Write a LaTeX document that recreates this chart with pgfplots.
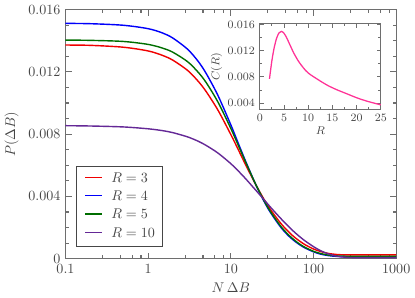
\documentclass[border=0pt]{standalone}
\usepackage{pgfplots}
\pgfplotsset{compat=1.18}
\definecolor{axgray}{RGB}{110,110,110}
\definecolor{txgray}{RGB}{70,70,70}
\definecolor{cred}{RGB}{240,0,0}
\definecolor{cblue}{RGB}{0,0,250}
\definecolor{cgreen}{RGB}{0,110,0}
\definecolor{cpurple}{RGB}{100,40,150}
\definecolor{cpink}{RGB}{255,50,150}
\begin{document}
\begin{tikzpicture}
\begin{axis}[
  name=main,
  scale only axis,
  width=235pt, height=177pt,
  xmode=log,
  xmin=0.1, xmax=1000,
  ymin=0, ymax=0.016,
  xtick={0.1,1,10,100,1000},
  xticklabels={0.1,1,10,100,1000},
  minor xtick={0.28,0.46,0.64,0.82,2.8,4.6,6.4,8.2,28,46,64,82,280,460,640,820},
  ytick={0,0.004,0.008,0.012,0.016},
  yticklabels={0,0.004,0.008,0.012,0.016},
  minor ytick={0.001,0.002,0.003,0.005,0.006,0.007,0.009,0.010,0.011,0.013,0.014,0.015},
  scaled y ticks=false,
  axis line style={axgray, line width=1pt},
  major tick style={axgray, line width=0.8pt},
  minor tick style={axgray, line width=0.8pt},
  major tick length=4.3pt,
  minor tick length=2.5pt,
  tick align=inside,
  ticklabel style={text=txgray},
  xlabel style={text=txgray},
  ylabel style={text=txgray},
  xlabel={$N\,\Delta B$},
  ylabel={$P(\Delta B)$},
  clip=false,
]
\addplot[cred, line width=1pt, smooth] coordinates {
(0.1,0.01372)(0.2,0.01370)(0.5,0.01358)(1,0.01334)(1.5,0.01305)(2,0.01274)(3,0.01209)(4,0.01141)(5,0.01075)(7,0.00953)(10,0.00797)(12,0.00712)(15,0.00606)(20,0.00476)(25,0.00384)(30,0.00317)(40,0.00228)(50,0.00172)(60,0.00134)(70,0.00108)(80,0.00088)(100,0.00062)(120,0.00047)(150,0.00034)(200,0.00026)(300,0.00024)(500,0.00024)(1000,0.00024)};
\addplot[cblue, line width=1pt, smooth] coordinates {
(0.1,0.01511)(0.2,0.01509)(0.5,0.01499)(1,0.01477)(1.5,0.01449)(2,0.01416)(3,0.01345)(4,0.01269)(5,0.01192)(7,0.01047)(10,0.00859)(12,0.00755)(15,0.00629)(20,0.00476)(25,0.00372)(30,0.00298)(40,0.00203)(50,0.00146)(60,0.00110)(70,0.00085)(80,0.00067)(100,0.00044)(120,0.00030)(150,0.00020)(200,0.00014)(300,0.00012)(500,0.00012)(1000,0.00012)};
\addplot[cgreen, line width=1pt, smooth] coordinates {
(0.1,0.01404)(0.2,0.01402)(0.5,0.01395)(1,0.01376)(1.5,0.01352)(2,0.01325)(3,0.01265)(4,0.01199)(5,0.01133)(7,0.01005)(10,0.00836)(12,0.00741)(15,0.00623)(20,0.00477)(25,0.00376)(30,0.00304)(40,0.00209)(50,0.00152)(60,0.00115)(70,0.00089)(80,0.00071)(100,0.00047)(120,0.00034)(150,0.00023)(200,0.00017)(300,0.00015)(500,0.00015)(1000,0.00015)};
\addplot[cpurple, line width=1pt, smooth] coordinates {
(0.1,0.00854)(0.2,0.00852)(0.5,0.00846)(1,0.00834)(1.5,0.00822)(2,0.00809)(3,0.00782)(4,0.00755)(5,0.00728)(7,0.00678)(10,0.00610)(12,0.00569)(15,0.00515)(20,0.00440)(25,0.00381)(30,0.00332)(40,0.00259)(50,0.00206)(60,0.00166)(70,0.00136)(80,0.00112)(100,0.00077)(120,0.00053)(150,0.00031)(200,0.00014)(250,0.00009)(300,0.00007)(500,0.00007)(1000,0.00007)};
% legend
\fill[white] (rel axis cs:0.0343,0.0472) rectangle (rel axis cs:0.2927,0.372);
\draw[txgray, line width=0.6pt] (rel axis cs:0.0343,0.0472) rectangle (rel axis cs:0.2927,0.372);
\fill[cred] ([yshift=-0.55pt]rel axis cs:0.0599,0.3254) rectangle ([yshift=0.55pt]rel axis cs:0.1103,0.3254);
\fill[cblue] ([yshift=-0.55pt]rel axis cs:0.0599,0.2528) rectangle ([yshift=0.55pt]rel axis cs:0.1103,0.2528);
\fill[cgreen] ([yshift=-0.55pt]rel axis cs:0.0599,0.1786) rectangle ([yshift=0.55pt]rel axis cs:0.1103,0.1786);
\fill[cpurple] ([yshift=-0.55pt]rel axis cs:0.0599,0.1048) rectangle ([yshift=0.55pt]rel axis cs:0.1103,0.1048);
\node[anchor=west, text=txgray, inner sep=0pt] at (rel axis cs:0.1377,0.3254) {$R=3$};
\node[anchor=west, text=txgray, inner sep=0pt] at (rel axis cs:0.1377,0.2528) {$R=4$};
\node[anchor=west, text=txgray, inner sep=0pt] at (rel axis cs:0.1377,0.1786) {$R=5$};
\node[anchor=west, text=txgray, inner sep=0pt] at (rel axis cs:0.1377,0.1048) {$R=10$};
\coordinate (insetpos) at (rel axis cs:0.5875,0.599);
\end{axis}
\begin{axis}[
  at={(insetpos)}, anchor=south west,
  scale only axis,
  width=86pt, height=61pt,
  xmin=0, xmax=25,
  ymin=0.003, ymax=0.0162,
  xtick={0,5,10,15,20,25},
  minor xtick={2.5,7.5,12.5,17.5,22.5},
  ytick={0.004,0.008,0.012,0.016},
  yticklabels={0.004,0.008,0.012,0.016},
  minor ytick={0.006,0.010,0.014},
  scaled y ticks=false,
  axis line style={axgray, line width=0.8pt},
  major tick style={axgray, line width=0.6pt},
  minor tick style={axgray, line width=0.6pt},
  major tick length=3pt,
  minor tick length=1.8pt,
  tick align=inside,
  ticklabel style={text=txgray, font=\footnotesize},
  xlabel style={text=txgray, font=\footnotesize, yshift=3pt},
  ylabel style={text=txgray, font=\footnotesize, yshift=-3pt},
  xlabel={$R$},
  ylabel={$C(R)$},
  axis background/.style={fill=white},
]
\addplot[cpink, line width=0.9pt, smooth] coordinates {
(2,0.0077)(2.5,0.0105)(3,0.0126)(3.5,0.0140)(4,0.0148)(4.5,0.0150)(5,0.0147)(5.5,0.0141)(6,0.0133)(7,0.0117)(8,0.0104)(9,0.0094)(10,0.0086)(12,0.0076)(14,0.0067)(16,0.0060)(18,0.0054)(20,0.0048)(22,0.0043)(25,0.0037)};
\end{axis}
\end{tikzpicture}
\end{document}
